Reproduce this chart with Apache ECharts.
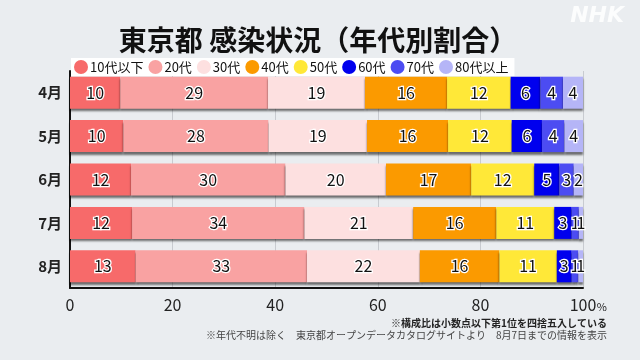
<!DOCTYPE html>
<html><head><meta charset="utf-8">
<script src="https://cdn.jsdelivr.net/npm/echarts@6/dist/echarts.min.js"></script>
<style>html,body{margin:0;padding:0;background:#eaedf0}#c{width:640px;height:360px}</style>
</head><body><div id="c"></div>
<script>
const months = ['4月','5月','6月','7月','8月'];
const ageGroups = ['10代以下','20代','30代','40代','50代','60代','70代','80代以上'];
const colors = ['#f76a6a','#f9a2a2','#fde0e0','#fb9a00','#ffe838','#0000ee','#4c4cf2','#b5b5f7'];
const v10 = [9.8, 10.4, 11.9, 12.1, 12.8];
const v20 = [28.8, 28.3, 30.1, 33.6, 33.4];
const v30 = [18.9, 19.2, 19.6, 21.2, 22.0];
const v40 = [16.0, 15.8, 16.6, 16.2, 15.5];
const v50 = [12.4, 12.4, 12.3, 11.3, 11.2];
const v60 = [5.8, 5.9, 4.9, 3.4, 2.9];
const v70 = [4.4, 4.4, 2.8, 1.4, 1.3];
const v80 = [3.9, 3.6, 1.8, 0.8, 0.9];
const xTicks = [0, 20, 40, 60, 80, 100];
const seriesValues = [v10, v20, v30, v40, v50, v60, v70, v80];

const chart = echarts.init(document.getElementById('c'));
const FONT = '"Noto Sans CJK JP","Noto Sans",sans-serif';
chart.setOption({
  backgroundColor: '#eaedf0',
  animation: false,
  title: {
    text: '東京都 感染状況（年代別割合）',
    left: 313, top: 21, textAlign: 'center',
    textStyle: {fontFamily: FONT, fontSize: 28, fontWeight: 'bold', color: '#111'}
  },
  legend: {
    data: ageGroups,
    left: 71, top: 58, width: 620,
    backgroundColor: '#ffffff',
    padding: [2, 6, 2, 3],
    itemGap: 5, itemWidth: 14, itemHeight: 14,
    icon: 'circle',
    textStyle: {fontFamily: FONT, fontSize: 13, color: '#111', padding: [0, 0, 0, -3]}
  },
  graphic: [
    {type: 'text', right: 16, top: 5, style: {text: 'NHK', fontFamily: 'DejaVu Sans', fontStyle: 'italic', fontWeight: 'bold', fontSize: 22, fill: '#ffffff', opacity: 0.85}},
    {type: 'text', right: 33, top: 318, style: {text: '※構成比は小数点以下第1位を四捨五入している', fontFamily: FONT, fontWeight: 'bold', fontSize: 10, fill: '#222', textAlign: 'right'}},
    {type: 'text', right: 33, top: 330, style: {text: '※年代不明は除く　東京都オープンデータカタログサイトより　8月7日までの情報を表示', fontFamily: FONT, fontSize: 10, fill: '#444', textAlign: 'right'}}
  ],
  grid: {left: 70, right: 57, top: 71, bottom: 72, containLabel: false},
  xAxis: {
    type: 'value', min: 0, max: 100, interval: 20,
    axisLine: {show: true, lineStyle: {color: '#111', width: 2}},
    axisTick: {show: false},
    splitLine: {show: true, lineStyle: {color: '#c8cbd0', width: 1}},
    axisLabel: {
      margin: 9,
      fontFamily: FONT, fontSize: 16, color: '#222',
      formatter: function (v) { return v === 100 ? '{pad|}100{p|%}' : String(v); },
      rich: {
        pad: {width: 10},
        p: {fontSize: 11, color: '#222', fontFamily: FONT, padding: [4, 0, 0, 1], width: 9}
      }
    }
  },
  yAxis: {
    type: 'category', data: months, inverse: true,
    axisLine: {show: true, lineStyle: {color: '#111', width: 2}},
    axisTick: {show: false},
    axisLabel: {fontFamily: FONT, fontSize: 15, fontWeight: 'bold', color: '#222', margin: 8}
  },
  series: seriesValues.map((vals, i) => ({
    name: ageGroups[i],
    type: 'bar',
    stack: 'total',
    barWidth: 32,
    data: vals,
    itemStyle: {color: colors[i], shadowColor: 'rgba(0,0,0,0.55)', shadowOffsetY: 2.5, shadowBlur: 2},
    label: {
      show: true, position: 'inside',
      formatter: p => String(Math.round(p.value)),
      fontFamily: FONT, fontSize: 16, color: '#111',
      textBorderColor: '#ffffff', textBorderWidth: 2.5
    }
  }))
});
</script></body></html>
